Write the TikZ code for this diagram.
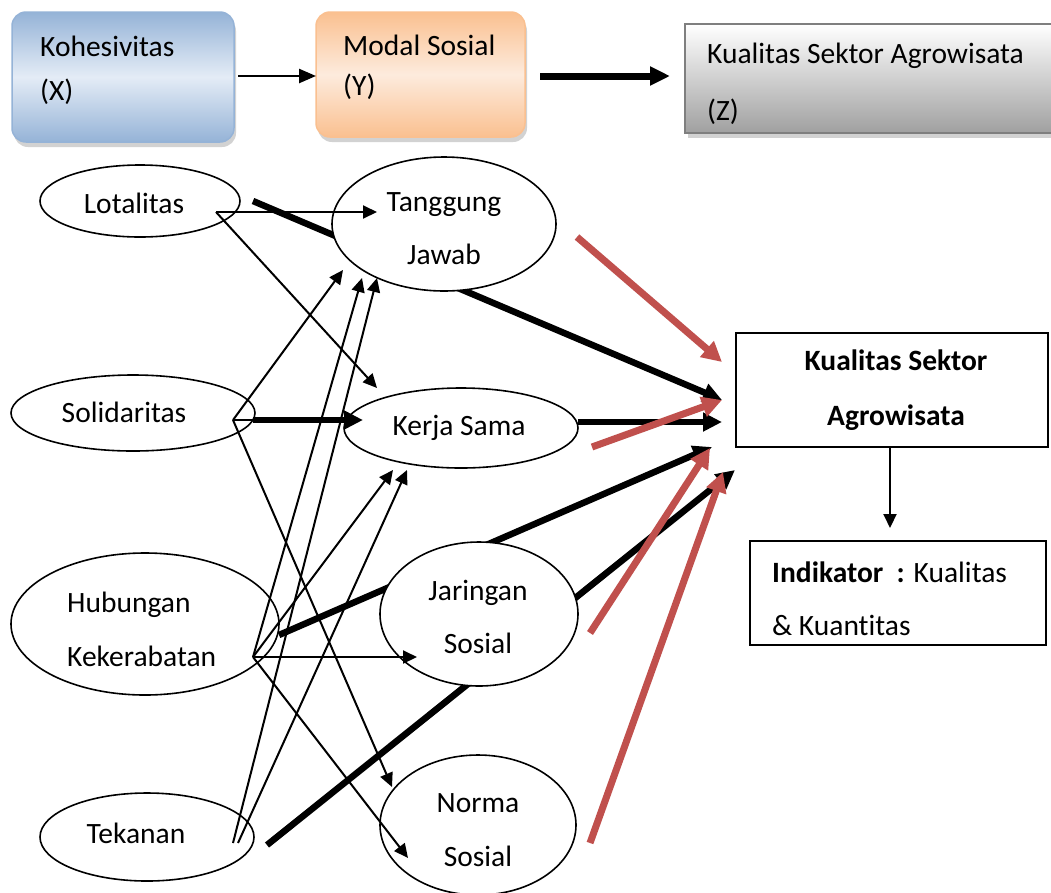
\documentclass[tikz,border=0pt]{standalone}
\usepackage{fontspec}
\setmainfont{Carlito}[Ligatures=NoCommon]
\usetikzlibrary{arrows.meta,shapes.geometric,shadows}
\definecolor{accred}{HTML}{C0504D}
\definecolor{bluedark}{HTML}{95B3D7}
\definecolor{bluelight}{HTML}{E4ECF6}
\definecolor{orgdark}{HTML}{FAC090}
\definecolor{orglight}{HTML}{FDEBDD}
\definecolor{zborder}{HTML}{7F7F7F}
\definecolor{zgray}{HTML}{A0A0A0}
\newcommand\lsp[1]{\fontsize{29.5}{#1}\selectfont}
\begin{document}
\begin{tikzpicture}[x=1pt,y=-1pt,
  ell/.style={ellipse,draw,line width=1.6pt,fill=white,inner sep=0pt},
  etxt/.style={inner sep=0pt,align=flush center,font=\lsp{54}},
  ltxt/.style={inner sep=0pt,align=flush left,anchor=west},
  thinarr/.style={line width=2pt,-{Triangle[length=14pt,width=13pt]}},
  thickarr/.style={line width=6.5pt,-{Triangle[length=19pt,width=18pt]}},
  redarr/.style={draw=accred,line width=7pt,-{Triangle[length=20pt,width=20pt]}},
  topbox/.style={rectangle,rounded corners=14pt,line width=1.5pt,
    shading angle=-45,drop shadow={shadow xshift=2pt,shadow yshift=-5pt,opacity=0.35}},
  plainbox/.style={rectangle,draw,line width=2pt,fill=white}
]
\useasboundingbox (0,0) rectangle (1051,892);
\fill[white] (0,0) rectangle (1051,892);

% ---------- top row ----------
\node[topbox,draw=bluedark,top color=bluedark,bottom color=bluedark,middle color=bluelight,
  minimum width=222pt,minimum height=130pt] (kx) at (123,77) {};
\node[ltxt,font=\lsp{44}] (kxt) at (40,70) {Kohesivitas\\(X)};
\node[topbox,draw=orgdark,top color=orgdark,bottom color=orgdark,middle color=orglight,
  minimum width=209pt,minimum height=125pt] (my) at (420.5,74.5) {};
\node[ltxt,font=\lsp{40}] (myt) at (343,67) {Modal Sosial\\(Y)};
\node[rectangle,draw=zborder,line width=2.5pt,top color=white,bottom color=zgray,
  drop shadow={shadow xshift=3pt,shadow yshift=-5pt,opacity=0.35},
  minimum width=385pt,minimum height=109pt] (kz) at (877.5,78.5) {};
\node[ltxt,font=\lsp{57}] (kzt) at (707,83.5) {Kualitas Sektor Agrowisata\\(Z)};
\coordinate (a1s) at (238,76);
\coordinate (a1e) at (316,76);
\coordinate (a2s) at (540,76);
\coordinate (a2e) at (670,76);
\draw[line width=2.5pt,-{Triangle[length=17pt,width=14pt]}] (a1s) -- (a1e);
\draw[line width=7pt,-{Triangle[length=20pt,width=18pt]}] (a2s) -- (a2e);

% ---------- named points ----------
\coordinate (lotO) at (216,212);
\coordinate (solO) at (233,420);
\coordinate (hubO) at (253,657);
\coordinate (tekA) at (233,843);
\coordinate (tekB) at (238,843);
\coordinate (b1s) at (253,201);  \coordinate (b1e) at (722,400);
\coordinate (b2s) at (578,422);  \coordinate (b2e) at (722,422);
\coordinate (b3s) at (279,635);  \coordinate (b3e) at (712,447);
\coordinate (b4s) at (267,845);  \coordinate (b4e) at (735,470);
\coordinate (solT) at (253,420);
\coordinate (ksL) at (363,420);

% thick lines passing behind ellipses
\draw[thickarr] (b1s) -- (b1e);
\draw[thickarr] (b3s) -- (b3e);
\draw[thickarr] (b4s) -- (b4e);

% ---------- ellipses ----------
\node[ell,minimum width=200pt,minimum height=72pt] (lot) at (140,201) {};
\node[ell,minimum width=244pt,minimum height=76pt] (sol) at (133,413) {};
\node[ell,minimum width=268pt,minimum height=142pt] (hub) at (145,624) {};
\node[ell,minimum width=214pt,minimum height=88pt] (tek) at (147,837) {};
\node[ell,minimum width=224pt,minimum height=134pt] (tj) at (444,224) {};
\node[ell,minimum width=234pt,minimum height=80pt] (ks) at (461,428) {};
\node[ell,minimum width=198pt,minimum height=144pt] (js) at (479,614) {};
\node[ell,minimum width=196pt,minimum height=140pt] (ns) at (478,825) {};

\node[etxt] (lott) at (134,203) {Lotalitas};
\node[etxt] (solt) at (124,412) {Solidaritas};
\node[ltxt,font=\lsp{54}] (hubt) at (67,629) {Hubungan\\Kekerabatan};
\node[etxt] (tekt) at (136,833) {Tekanan};
\node[etxt,font=\lsp{53}] (tjt) at (444,228.5) {Tanggung\\Jawab};
\node[etxt] (kst) at (459,428) {Kerja Sama};
\node[etxt,font=\lsp{53}] (jst) at (478,616.5) {Jaringan\\Sosial};
\node[etxt] (nst) at (478,830) {Norma\\Sosial};

% target points
\coordinate (tjA) at (343,270);
\coordinate (tjB) at (362,278);
\coordinate (tjC) at (377,278);
\coordinate (tjL) at (377,212);
\coordinate (ksT) at (377,388);
\coordinate (ksA) at (393,470);
\coordinate (ksB) at (407,470);
\coordinate (jsL) at (417,657);
\coordinate (nsA) at (392,787);
\coordinate (nsB) at (408,858);

% ---------- thin arrows ----------
\draw[thinarr] (lotO) -- (tjL);
\draw[thinarr] (lotO) -- (ksT);
\draw[thinarr] (solO) -- (tjA);
\draw[line width=2pt] (solO) -- (solT);
\draw[thickarr] (solT) -- (ksL);
\draw[thinarr] (solO) -- (nsA);
\draw[thinarr] (hubO) -- (tjB);
\draw[thinarr] (hubO) -- (ksA);
\draw[thinarr] (hubO) -- (jsL);
\draw[thinarr] (hubO) -- (nsB);
\draw[thinarr] (tekA) -- (tjC);
\draw[thinarr] (tekB) -- (ksB);
\draw[thickarr] (b2s) -- (b2e);

% ---------- right boxes ----------
\node[plainbox,minimum width=312pt,minimum height=114pt] (kq) at (892,390) {};
\node[etxt,font=\lsp{55}\bfseries] (kqt) at (896,390.5) {Kualitas Sektor\\Agrowisata};
\node[plainbox,minimum width=296pt,minimum height=104pt] (ind) at (898,593) {};
\node[ltxt,font=\lsp{53}] (indt) at (772,598.5) {\textbf{Indikator\ \ :} Kualitas\\\& Kuantitas};
\coordinate (kqd) at (890,447);
\coordinate (indu) at (890,528);
\draw[thinarr] (kqd) -- (indu);

% ---------- red arrows ----------
\coordinate (r1s) at (577,237); \coordinate (r1e) at (722,362);
\coordinate (r2s) at (592,447); \coordinate (r2e) at (722,400);
\coordinate (r3s) at (590,633); \coordinate (r3e) at (710,448);
\coordinate (r4s) at (590,843); \coordinate (r4e) at (723,472);
\draw[redarr] (r1s) -- (r1e);
\draw[redarr] (r2s) -- (r2e);
\draw[redarr] (r3s) -- (r3e);
\draw[redarr] (r4s) -- (r4e);
\end{tikzpicture}
\end{document}
